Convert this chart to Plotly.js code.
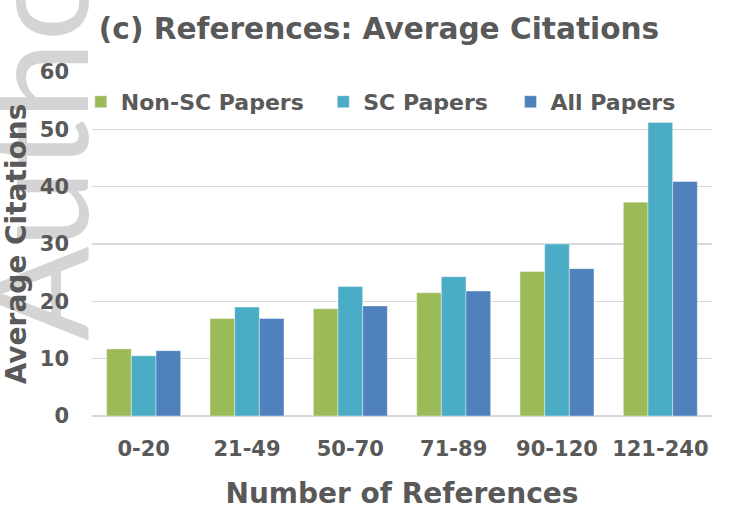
<!DOCTYPE html>
<html><head><meta charset="utf-8">
<script src="https://cdn.plot.ly/plotly-3.0.1.min.js"></script>
<style>html,body{margin:0;padding:0;background:#fff}</style>
</head><body><div id="chart" style="width:749px;height:528px"></div>
<script>
const categories = ['0-20', '21-49', '50-70', '71-89', '90-120', '121-240'];
const nonScPapers = [11.7, 17.0, 18.7, 21.5, 25.2, 37.3];
const scPapers = [10.5, 19.0, 22.6, 24.3, 30.0, 51.2];
const allPapers = [11.4, 17.0, 19.2, 21.8, 25.7, 40.9];
const seriesNames = ['Non-SC Papers', 'SC Papers', 'All Papers'];
const yTickValues = [0, 10, 20, 30, 40, 50, 60];

const colors = ['#9BBB59', '#4BACC6', '#4F81BD'];
const textColor = '#595959';
const fam = 'DejaVu Sans';
const seriesValues = [nonScPapers, scPapers, allPapers];
const legendIds = ['legend', 'legend2', 'legend3'];

const traces = seriesValues.map((vals, i) => ({
  type: 'bar',
  name: seriesNames[i],
  x: categories,
  y: vals,
  marker: {color: colors[i], line: {color: 'rgba(255,255,255,0.4)', width: 1}},
  legend: legendIds[i],
  showlegend: true,
  hoverinfo: 'x+y+name'
}));

const legendBase = {
  orientation: 'h', yanchor: 'middle', y: 0.913, xanchor: 'left',
  bgcolor: 'rgba(0,0,0,0)', borderwidth: 0, visible: true,
  font: {family: fam, size: 22, color: textColor, weight: 'bold'}
};

const layout = {
  width: 749, height: 528,
  showlegend: true,
  margin: {l: 92, r: 37, t: 72, b: 112},
  paper_bgcolor: '#ffffff', plot_bgcolor: '#ffffff',
  barmode: 'group', bargap: 0.284, bargroupgap: 0,
  title: {
    text: '(c) References: Average Citations',
    font: {family: fam, size: 29.6, color: textColor, weight: 'bold'},
    xref: 'paper', x: 0.011, xanchor: 'left',
    yref: 'container', y: 1 - 29 / 528, yanchor: 'middle'
  },
  xaxis: {
    type: 'category',
    tickfont: {family: fam, size: 21, color: textColor, weight: 'bold'},
    showgrid: false, showline: false, zeroline: false,
    ticks: '', ticklabelstandoff: 18,
    title: {text: 'Number of References', standoff: 23,
            font: {family: fam, size: 28, color: textColor, weight: 'bold'}}
  },
  yaxis: {
    range: [0, 60], tickvals: yTickValues,
    tickfont: {family: fam, size: 21, color: textColor, weight: 'bold'},
    showgrid: true, gridcolor: '#d9d9d9', gridwidth: 1.5,
    zeroline: true, zerolinecolor: '#d9d9d9', zerolinewidth: 1.5,
    showline: false, ticks: '', ticklabelstandoff: 22,
    title: {text: 'Average Citations', standoff: 7,
            font: {family: fam, size: 28, color: textColor, weight: 'bold'}}
  },
  legend: Object.assign({}, legendBase, {x: -0.018}),
  legend2: Object.assign({}, legendBase, {x: 0.373}),
  legend3: Object.assign({}, legendBase, {x: 0.675}),
  annotations: [{
    text: 'Author', showarrow: false, textangle: -90,
    xref: 'paper', yref: 'paper', x: 0.045, y: 0.212, xanchor: 'right', yanchor: 'bottom',
    font: {family: 'Lato', size: 140, color: '#d4d4d4', weight: 400}
  }]
};

Plotly.newPlot('chart', traces, layout, {displayModeBar: false, staticPlot: true}).then(gd => {
  const ann = gd.querySelector('.infolayer .annotation');
  const below = gd.querySelector('.layer-below');
  if (ann && below) below.appendChild(ann);
});
</script></body></html>
